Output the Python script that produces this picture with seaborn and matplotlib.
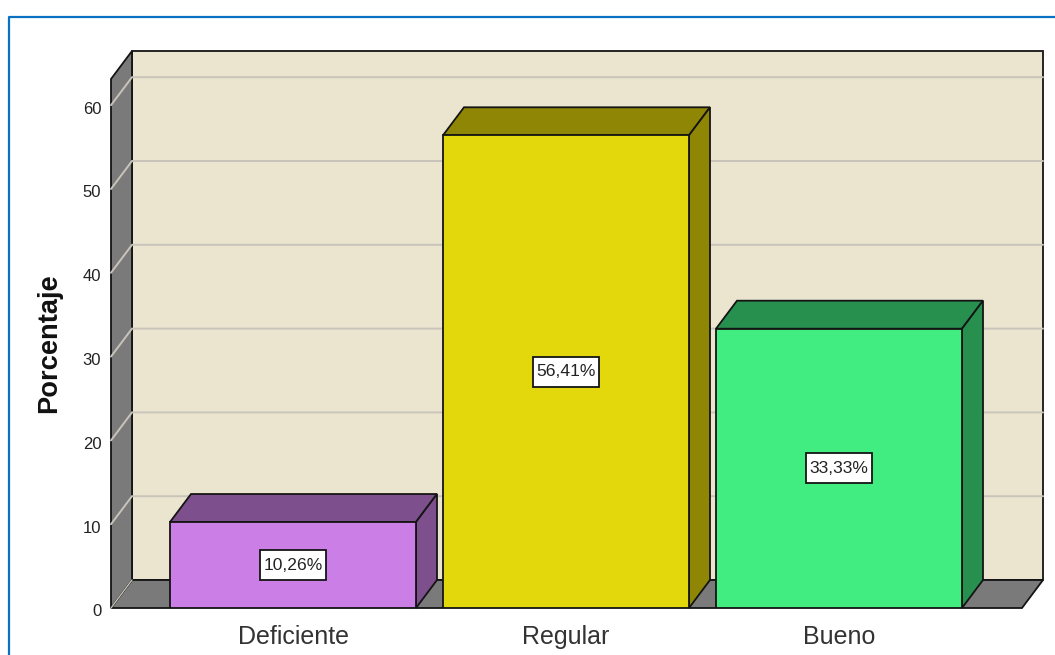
import numpy as np
import pandas as pd
import matplotlib
matplotlib.use("Agg")
import matplotlib.pyplot as plt
import matplotlib.transforms as mtrans
from matplotlib.patches import Polygon, Rectangle
from matplotlib.lines import Line2D
import seaborn as sns

categories = ["Deficiente", "Regular", "Bueno"]
percentages = [10.26, 56.41, 33.33]
value_labels = ["10,26%", "56,41%", "33,33%"]
y_ticks = [0, 10, 20, 30, 40, 50, 60]

front_colors = ["#cb7ee5", "#e3d80c", "#41ec80"]
top_colors = ["#7d4f8c", "#8f8606", "#28904f"]

W, H = 1055, 655
px_per_unit = 8.38
px_per_cat = 273
depth_x = 21 / px_per_cat
depth_y = 28 / px_per_unit
edge = "#141414"
wall = "#7a7a7a"
back = "#ebe5d0"
grid = "#c8c4ba"

sns.set_theme(style="white")
plt.rcParams["font.family"] = ["Liberation Sans", "DejaVu Sans"]

fig = plt.figure(figsize=(W / 100, H / 100), dpi=100)
ax = fig.add_axes([111 / W, (H - 608) / H, 911 / W, 529 / H])
ax.patch.set_visible(False)

df = pd.DataFrame({"categoria": categories, "porcentaje": percentages})
sns.barplot(data=df, x="categoria", y="porcentaje", hue="categoria", palette=front_colors,
            saturation=1, width=246 / px_per_cat, edgecolor=edge, linewidth=1.3,
            legend=False, dodge=False, zorder=5, ax=ax)

# keep the bars before anything else gets added to the axes
bars = sorted([p for p in ax.patches if isinstance(p, Rectangle)], key=lambda p: p.get_x())

x0 = (111 - 293) / px_per_cat
x1 = x0 + 911 / px_per_cat
y1 = 529 / px_per_unit
ax.set_xlim(x0, x1)
ax.set_ylim(0, y1)


def face(points, color, z):
    ax.add_patch(Polygon(points, closed=True, facecolor=color, edgecolor=edge, linewidth=1.3,
                         zorder=z, clip_on=False, joinstyle="miter"))


# walls of the 3d box
face([(x0 + depth_x, depth_y), (x1 + depth_x, depth_y), (x1 + depth_x, y1 + depth_y), (x0 + depth_x, y1 + depth_y)], back, 1)
face([(x0, 0), (x0 + depth_x, depth_y), (x1 + depth_x, depth_y), (x1, 0)], wall, 2)
face([(x0, 0), (x0 + depth_x, depth_y), (x0 + depth_x, y1 + depth_y), (x0, y1)], wall, 2)

for t in y_ticks:
    if t == 0:
        ax.plot([x0, x0 + depth_x], [0, depth_y], color=grid, lw=1, zorder=3, clip_on=False)
        continue
    ax.plot([x0, x0 + depth_x, x1 + depth_x], [t, t + depth_y, t + depth_y], color=grid, lw=1.4,
            zorder=3, clip_on=False, solid_joinstyle="miter")

# top and side of the bars, taken from what seaborn drew
box_w = 66 / px_per_cat
box_h = 30 / px_per_unit
for bar, dark, label in zip(bars, top_colors, value_labels):
    left, right, h = bar.get_x(), bar.get_x() + bar.get_width(), bar.get_height()
    bar.set_zorder(5)
    face([(left, h), (left + depth_x, h + depth_y), (right + depth_x, h + depth_y), (right, h)], dark, 4)
    face([(right, 0), (right + depth_x, depth_y), (right + depth_x, h + depth_y), (right, h)], dark, 4)
    cx = (left + right) / 2
    ax.add_patch(Rectangle((cx - box_w / 2, h / 2 - box_h / 2), box_w, box_h, facecolor="white",
                           edgecolor=edge, linewidth=1.3, zorder=6))
    ax.text(cx, h / 2, label, ha="center", va="center", fontsize=12.6, color="#222222", zorder=7)

for s in ax.spines.values():
    s.set_visible(False)
ax.set_yticks(y_ticks)
ax.tick_params(axis="y", length=0, pad=7, labelsize=12, labelcolor="#222222")
ax.tick_params(axis="x", length=0, pad=12, labelsize=18, labelcolor="#333333")
ax.set_xlabel("")
ax.set_ylabel("Porcentaje", fontsize=19.6, fontweight="bold", color="#111111")
ax.yaxis.set_label_coords((62 - 111) / 911, (608 - 343.5) / 529)

# spss style labels sit a little below the tick
shift = mtrans.ScaledTranslation(0, -2.5 / 100, fig.dpi_scale_trans)
for tl in ax.get_yticklabels():
    tl.set_transform(tl.get_transform() + shift)

# blue frame of the screenshot
fig.add_artist(Line2D([9 / W, 9 / W, 1], [0, (H - 17) / H, (H - 17) / H], color="#0a72c4", lw=1.6))

fig.savefig("out.png", dpi=100)
